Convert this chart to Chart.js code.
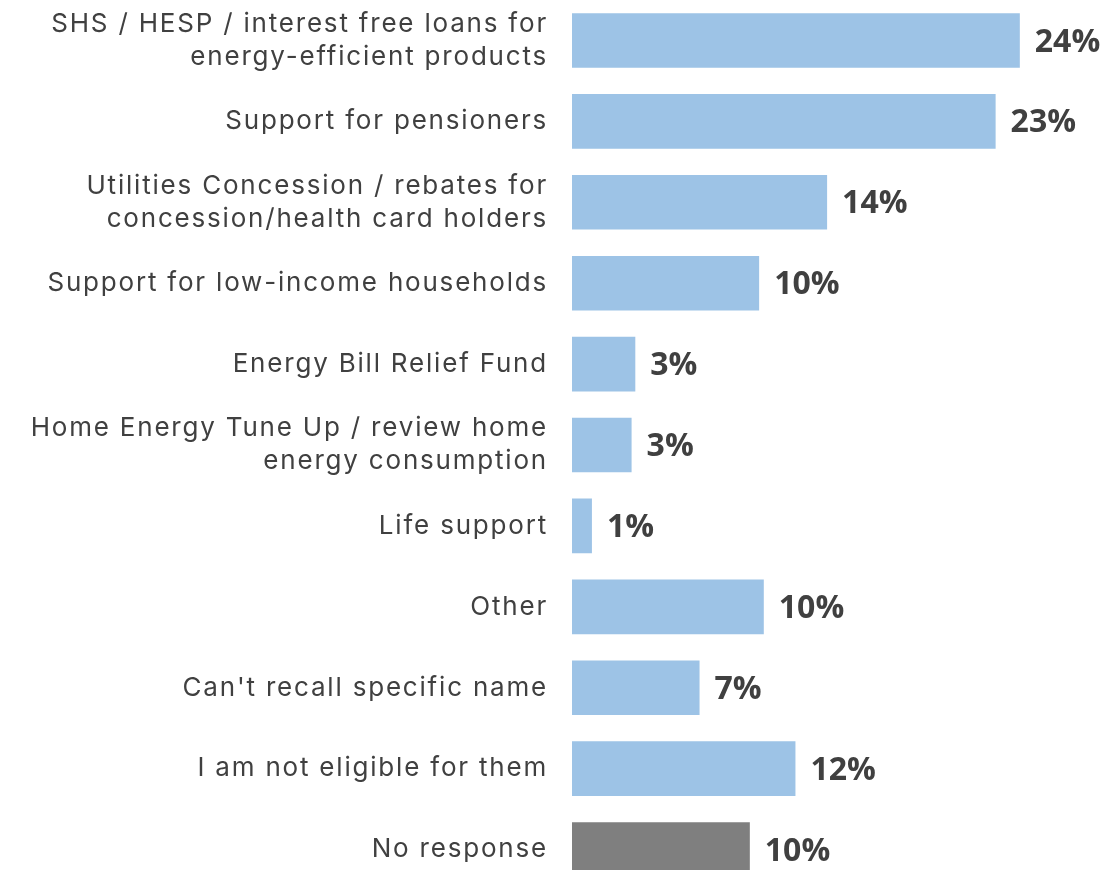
<!DOCTYPE html>
<html>
<head>
<meta charset="utf-8">
<script src="https://cdn.jsdelivr.net/npm/chart.js@4"></script>
<style>
  html, body { margin: 0; padding: 0; background: #fff; overflow: hidden; }
  #wrap { width: 1112px; height: 890px; }
</style>
</head>
<body>
<div id="wrap"><canvas id="chart" width="1112" height="890"></canvas></div>
<script>
const categories = [
  ["SHS / HESP / interest free loans for", "energy-efficient products"],
  "Support for pensioners",
  ["Utilities Concession / rebates for", "concession/health card holders"],
  "Support for low-income households",
  "Energy Bill Relief Fund",
  ["Home Energy Tune Up / review home", "energy consumption"],
  "Life support",
  "Other",
  "Can't recall specific name",
  "I am not eligible for them",
  "No response"
];
const shares = [24.05, 22.75, 13.7, 10.05, 3.4, 3.2, 1.07, 10.3, 6.85, 12.0, 9.55];
const shareLabels = ["24%", "23%", "14%", "10%", "3%", "3%", "1%", "10%", "7%", "12%", "10%"];

const BLUE = "#9DC3E6";
const GREY = "#7F7F7F";
const TEXT = "#404040";

// wider tick text, closer to the original's geometric font
const spacing = {
  id: "spacing",
  beforeDraw(chart) { chart.ctx.letterSpacing = "1.8px"; },
  afterDraw(chart) { chart.ctx.letterSpacing = "0px"; }
};

const valueLabels = {
  id: "valueLabels",
  afterDatasetsDraw(chart) {
    const ctx = chart.ctx;
    const meta = chart.getDatasetMeta(0);
    ctx.save();
    ctx.letterSpacing = "0px";
    ctx.font = "bold 32px 'Open Sans'";
    ctx.fillStyle = TEXT;
    ctx.textAlign = "left";
    ctx.textBaseline = "middle";
    meta.data.forEach((bar, i) => {
      ctx.fillText(shareLabels[i], bar.x + 15, bar.y + 2);
    });
    ctx.restore();
  }
};

const ctx = document.getElementById("chart");
new Chart(ctx, {
  type: "bar",
  data: {
    labels: categories,
    datasets: [{
      data: shares,
      backgroundColor: shares.map((v, i) => i === shares.length - 1 ? GREY : BLUE),
      borderWidth: 0,
      barPercentage: 1,
      categoryPercentage: 0.675
    }]
  },
  options: {
    indexAxis: "y",
    responsive: false,
    animation: false,
    layout: { padding: 0 },
    plugins: {
      legend: { display: false },
      tooltip: { enabled: false }
    },
    scales: {
      x: {
        display: false,
        min: 0,
        max: 29
      },
      y: {
        grid: { display: false, drawTicks: false },
        border: { display: false },
        ticks: {
          color: TEXT,
          padding: 24,
          font: { family: "Inter", size: 26, lineHeight: 1.27 }
        },
        afterFit(scale) {
          scale.width = 572;
          scale.paddingTop = 0;
          scale.paddingBottom = 0;
        }
      }
    }
  },
  plugins: [spacing, valueLabels]
});
</script>
</body>
</html>
